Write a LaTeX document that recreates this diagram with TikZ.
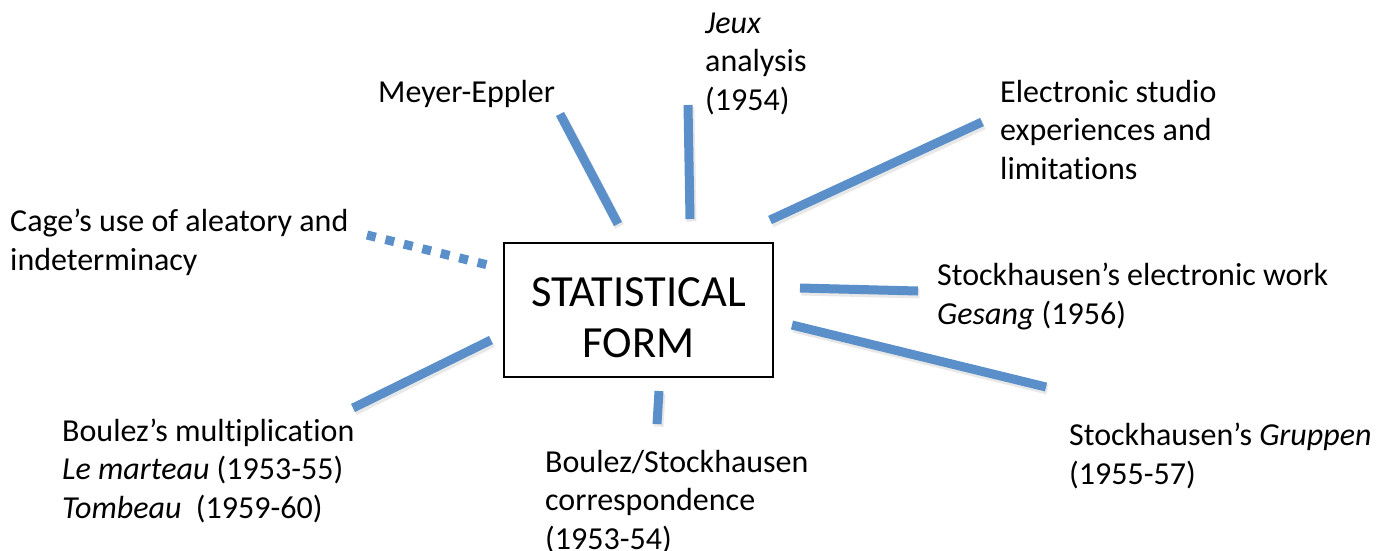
\documentclass[tikz,border=0pt]{standalone}
\usepackage{fontspec}
\setmainfont{Carlito}[Ligatures=NoCommon]
\definecolor{spoke}{HTML}{5A8FCA}
\begin{document}
\begin{tikzpicture}[x=1pt,y=-1pt,
  lbl/.style={anchor=base west,align=left,inner sep=0pt,font=\fontsize{32}{38.5}\selectfont},
  spokeline/.style={draw=spoke,line width=9pt},
  shadowline/.style={draw=black!25,line width=10pt,opacity=0.35,transform canvas={shift={(1.5pt,-2.5pt)}}},
  centerbox/.style={draw=black,line width=1.6pt,fill=white,inner sep=0pt,minimum width=269pt,minimum height=134pt},
  centertext/.style={align=center,inner sep=0pt,font=\fontsize{44.5}{51}\selectfont}]
\useasboundingbox (0,0) rectangle (1377,550);
\fill[white] (0,0) rectangle (1377,550);
% centre box
\node[centerbox] (c) at (638.5,310) {};
\node[centertext] (ct) at (638.5,318) {STATISTICAL\\FORM};
% labels (anchored at the baseline of the last line)
\node[lbl] (cage) at (10,270) {Cage’s use of aleatory and\\indeterminacy};
\node[lbl] (meyer) at (378,102) {Meyer-Eppler};
\node[lbl] (jeux) at (705,110) {\textit{Jeux}\\analysis\\(1954)};
\node[lbl] (elec) at (1000,179) {Electronic studio\\experiences and\\limitations};
\node[lbl] (ges) at (937,324) {Stockhausen’s electronic work\\\textit{Gesang} (1956)};
\node[lbl] (grup) at (1069,484) {Stockhausen’s \textit{Gruppen}\\(1955-57)};
\node[lbl] (corr) at (545,549) {Boulez/Stockhausen\\correspondence\\(1953-54)};
\node[lbl] (boul) at (62,518) {Boulez’s multiplication\\\textit{Le marteau} (1953-55)\\\textit{Tombeau}\ \ (1959-60)};
% spoke end points
\coordinate (m1) at (560,114); \coordinate (m2) at (618,224);
\coordinate (j1) at (688,105); \coordinate (j2) at (690,219);
\coordinate (e1) at (982,122); \coordinate (e2) at (770,220);
\coordinate (s1) at (800,288); \coordinate (s2) at (918,291);
\coordinate (g1) at (792,325); \coordinate (g2) at (1046,387);
\coordinate (b1) at (659,391); \coordinate (b2) at (657,424);
\coordinate (l1) at (353,408); \coordinate (l2) at (491,340);
\coordinate (d1) at (367,235); \coordinate (d2) at (488,265);
% shadows
\foreach \a/\b in {m1/m2,j1/j2,e1/e2,s1/s2,g1/g2,b1/b2,l1/l2}{
  \draw[shadowline] (\a) -- (\b);
}
% spokes
\draw[spokeline] (m1) -- (m2);
\draw[spokeline] (j1) -- (j2);
\draw[spokeline] (e1) -- (e2);
\draw[spokeline] (s1) -- (s2);
\draw[spokeline] (g1) -- (g2);
\draw[spokeline] (b1) -- (b2);
\draw[spokeline] (l1) -- (l2);
\draw[spokeline,dash pattern=on 9pt off 10pt] (d1) -- (d2);
\end{tikzpicture}
\end{document}
